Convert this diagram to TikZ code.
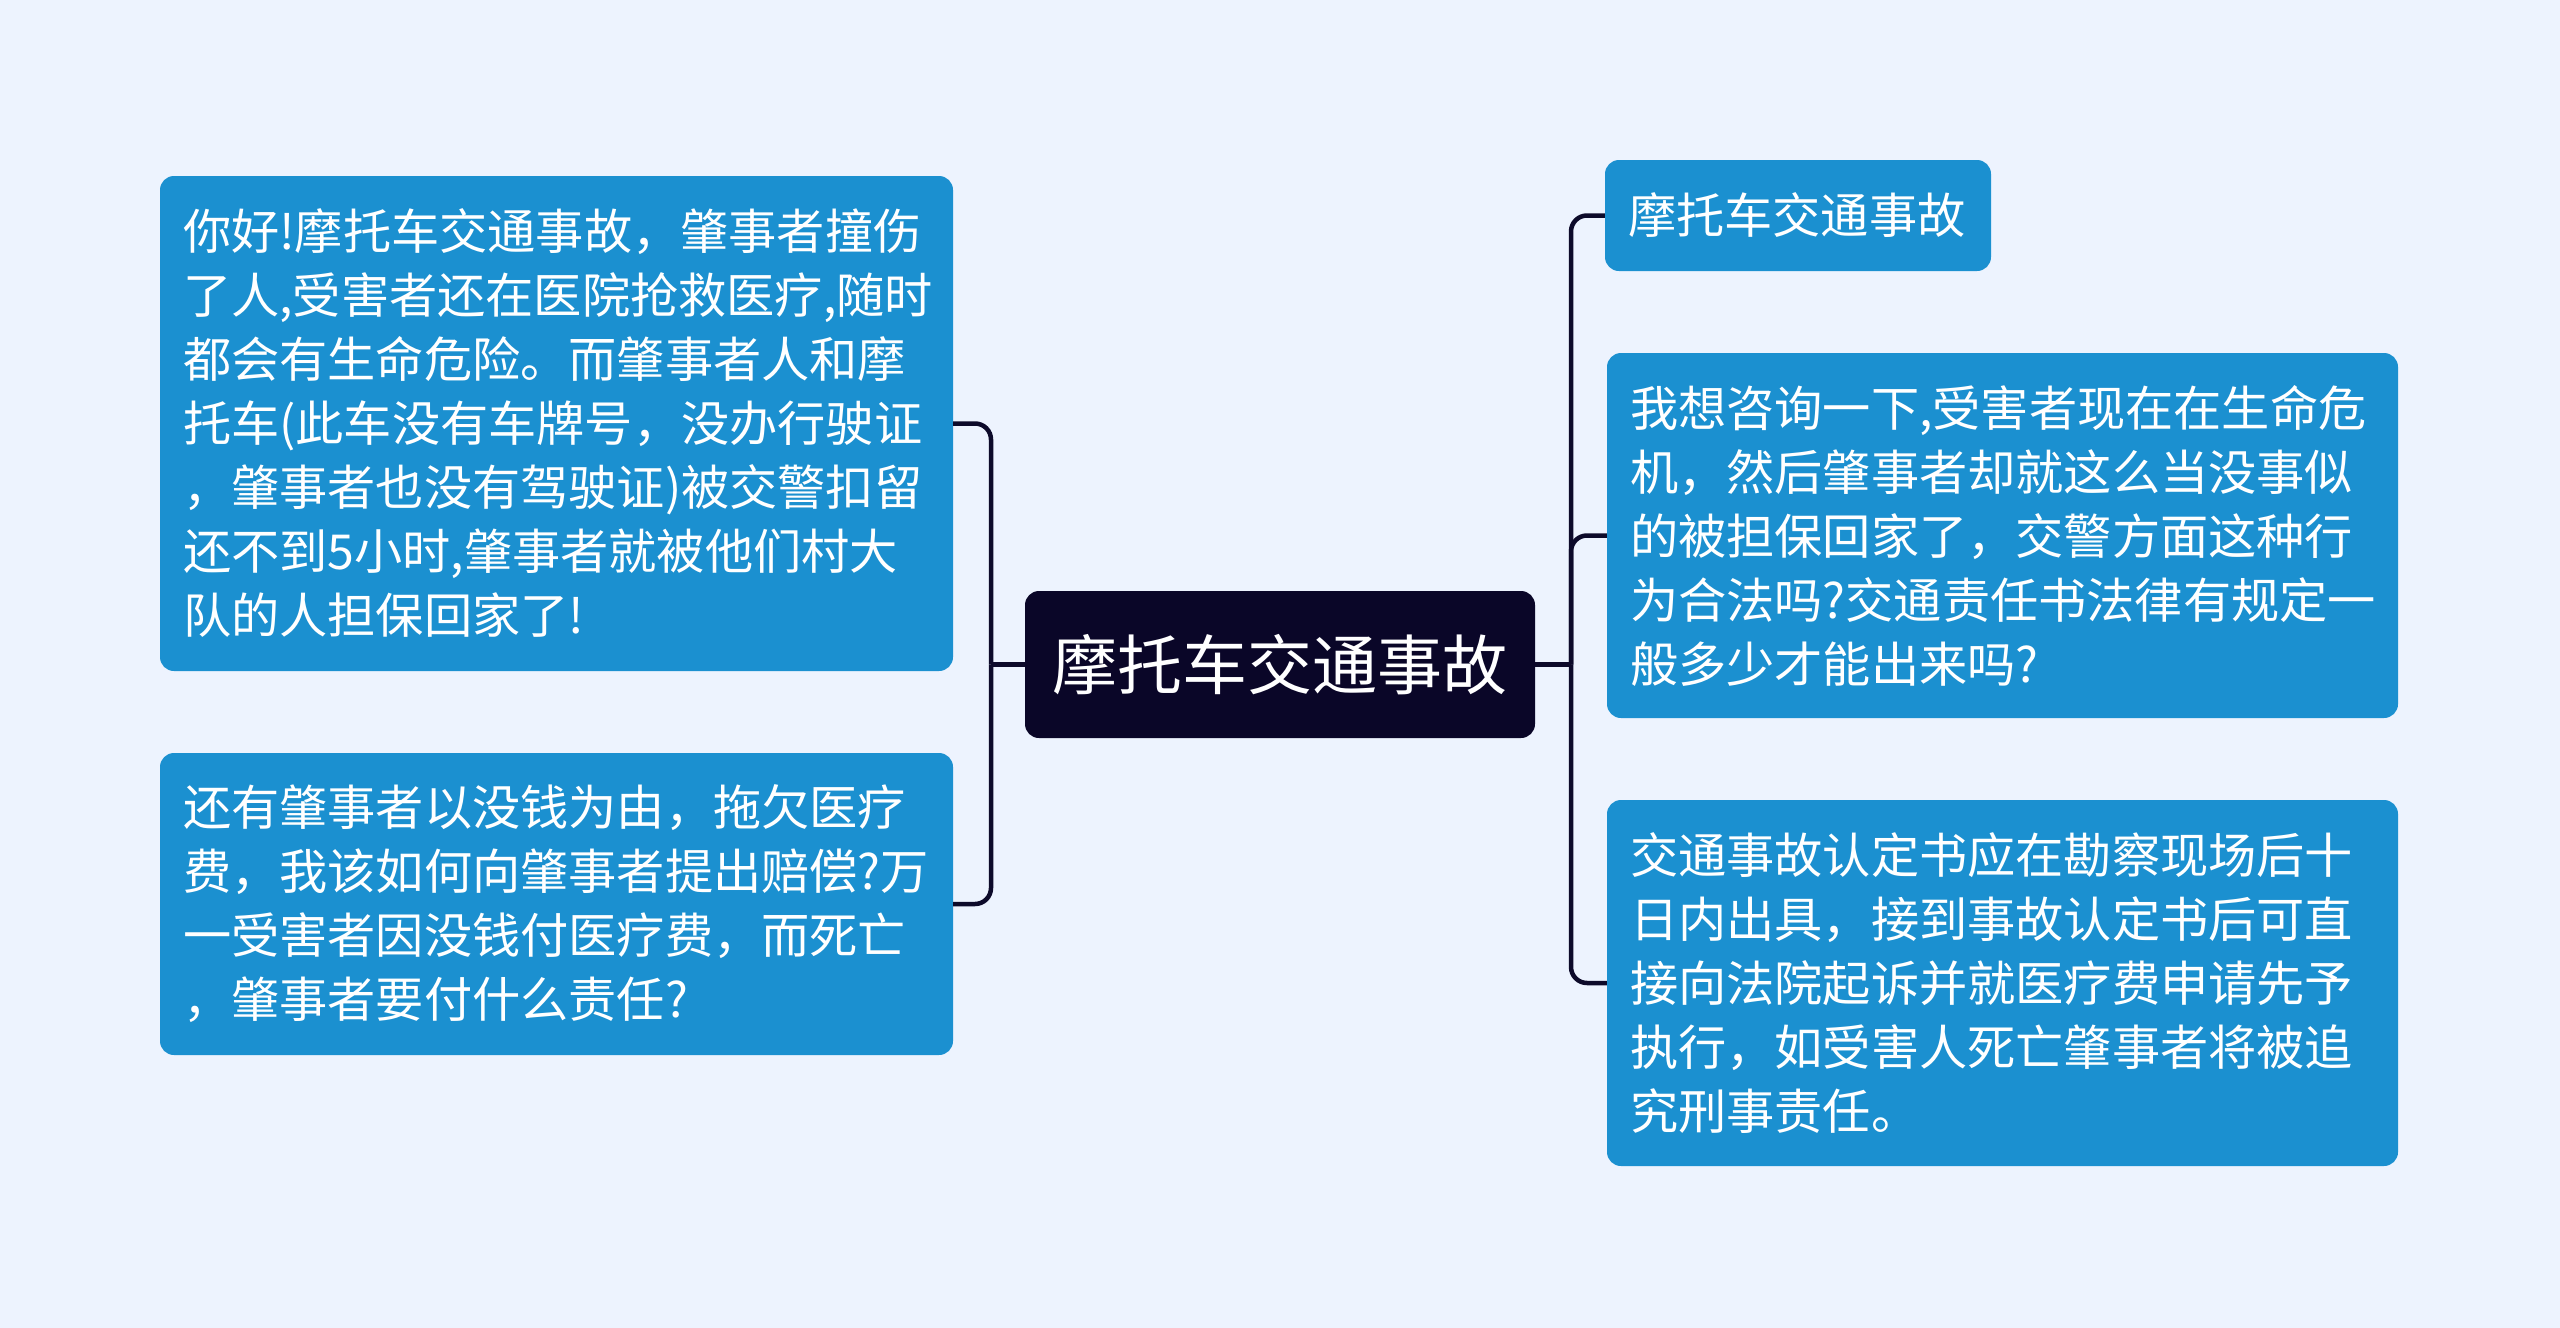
\documentclass[tikz,border=0pt]{standalone}
\usepackage{fontspec}
\setmainfont{Noto Sans CJK SC}
\definecolor{bgc}{RGB}{237,243,254}
\definecolor{boxc}{RGB}{27,144,208}
\definecolor{rootc}{RGB}{10,6,40}
\definecolor{linec}{RGB}{13,10,42}
\tikzset{
  leaf/.style={draw=none, fill=boxc, rounded corners=14pt, text=white, align=left,
    inner xsep=23pt, inner ysep=0pt, font=\fontsize{48.2}{64}\selectfont},
  rootbox/.style={draw=none, fill=rootc, rounded corners=14pt, text=white, align=center,
    inner sep=0pt, font=\fontsize{65}{70}\selectfont},
  conn/.style={draw=linec, line width=4.5pt, rounded corners=16pt}
}
\begin{document}
\begin{tikzpicture}[x=1pt,y=-1pt]
\useasboundingbox[fill=bgc] (0,0) rectangle (2560,1328);
\node[rootbox, minimum width=510pt, minimum height=147pt] (root) at (1280,664.5) {摩托车交通事故};
\node[leaf, text width=747pt, minimum height=495pt] (l1) at (556.5,423.5) {你好!摩托车交通事故，肇事者撞伤\\了人,受害者还在医院抢救医疗,随时\\都会有生命危险。而肇事者人和摩\\托车(此车没有车牌号，没办行驶证\\，肇事者也没有驾驶证)被交警扣留\\还不到5小时,肇事者就被他们村大\\队的人担保回家了!};
\node[leaf, text width=747pt, minimum height=302pt] (l2) at (556.5,904) {还有肇事者以没钱为由，拖欠医疗\\费，我该如何向肇事者提出赔偿?万\\一受害者因没钱付医疗费，而死亡\\，肇事者要付什么责任?};
\node[leaf, text width=340pt, minimum height=111pt] (r1) at (1798,215.5) {摩托车交通事故};
\node[leaf, text width=745pt, minimum height=365pt] (r2) at (2002.5,535.5) {我想咨询一下,受害者现在在生命危\\机，然后肇事者却就这么当没事似\\的被担保回家了，交警方面这种行\\为合法吗?交通责任书法律有规定一\\般多少才能出来吗?};
\node[leaf, text width=745pt, minimum height=366pt] (r3) at (2002.5,983) {交通事故认定书应在勘察现场后十\\日内出具，接到事故认定书后可直\\接向法院起诉并就医疗费申请先予\\执行，如受害人死亡肇事者将被追\\究刑事责任。};
\coordinate (jl) at (991,664.5);
\coordinate (jr) at (1571,664.5);
\draw[conn] (root.west) -- (jl);
\draw[conn] (root.east) -- (jr);
\draw[conn] (jl) |- (l1.east);
\draw[conn] (jl) |- (l2.east);
\draw[conn] (jr) |- (r1.west);
\draw[conn] (jr) |- (r2.west);
\draw[conn] (jr) |- (r3.west);
\end{tikzpicture}
\end{document}
